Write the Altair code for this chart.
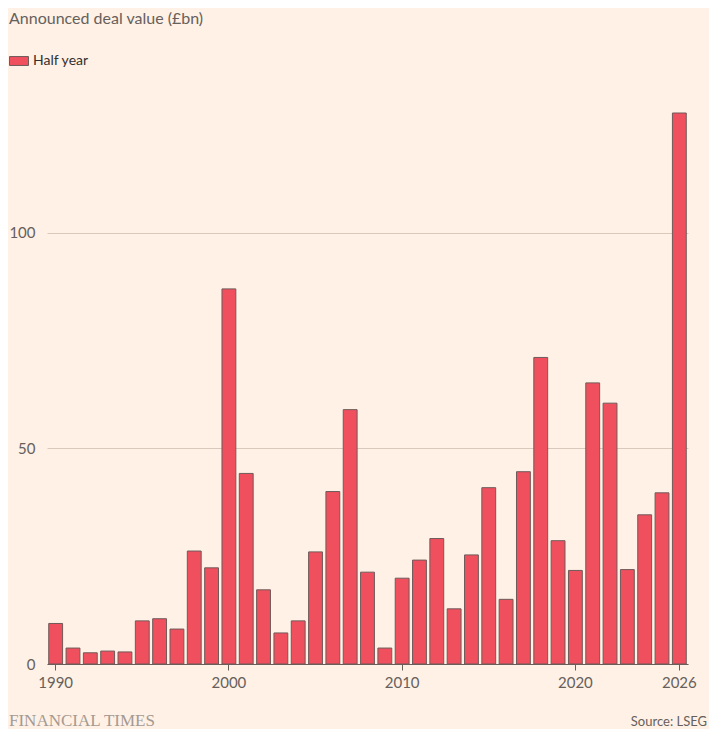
import pandas as pd
import altair as alt

years = list(range(1990, 2027))
values = [9.4, 3.7, 2.6, 3.0, 2.8, 10.0, 10.5, 8.1, 26.2, 22.3,
          87.0, 44.2, 17.2, 7.2, 10.0, 26.0, 40.0, 59.0, 21.3, 3.7,
          19.9, 24.1, 29.1, 12.8, 25.3, 40.9, 15.0, 44.6, 71.1, 28.6,
          21.7, 65.2, 60.5, 21.9, 34.6, 39.7, 127.8]
series = ["Half year"]
x_ticks = [1990, 2000, 2010, 2020, 2026]
y_ticks = [0, 50, 100]

font = "Lato"
grey = "#66605C"

df = pd.DataFrame({"year": years, "value": values, "series": series[0]})

bars = alt.Chart(df).mark_bar(stroke="#6E5B5A", strokeWidth=1).encode(
    x=alt.X("year:O", title=None,
            scale=alt.Scale(paddingInner=0.2, paddingOuter=0.1),
            axis=alt.Axis(values=x_ticks, labelAngle=0, tickSize=6, tickColor=grey,
                          domainColor=grey, labelColor=grey, labelFontSize=15,
                          labelFont=font, labelPadding=5, grid=False)),
    y=alt.Y("value:Q", title=None,
            scale=alt.Scale(domain=[0, 127.8], nice=False),
            axis=alt.Axis(values=y_ticks, ticks=False, domain=False, labelPadding=12,
                          labelColor=grey, labelFontSize=15, labelFont=font,
                          gridColor="#D9C8BC", gridWidth=1)),
    color=alt.Color("series:N", title=None,
                    scale=alt.Scale(domain=series, range=["#F04F5E"]),
                    legend=alt.Legend(orient="none", legendX=-38, legendY=-62, padding=0,
                                      symbolType="M-1,-0.47L1,-0.47L1,0.47L-1,0.47Z",
                                      symbolSize=361, symbolStrokeColor="#6E5B5A",
                                      symbolStrokeWidth=1, symbolOpacity=1,
                                      labelFontSize=14, labelFont=font, labelColor="#33302E",
                                      labelOffset=4)),
)

brand = alt.Chart(pd.DataFrame({"t": ["FINANCIAL TIMES"]})).mark_text(
    align="left", baseline="alphabetic", font="Liberation Serif", fontSize=17,
    color="#A39A93"
).encode(text="t:N", x=alt.value(-38), y=alt.value(613))

source = alt.Chart(pd.DataFrame({"t": ["Source: LSEG"]})).mark_text(
    align="right", baseline="alphabetic", font=font, fontSize=13, color=grey
).encode(text="t:N", x=alt.value(660), y=alt.value(613))

chart = alt.layer(bars, brand, source).properties(
    width=641,
    height=551,
    background="#FFF1E5",
    autosize=alt.AutoSizeParams(type="none"),
    padding={"left": 39, "top": 105, "right": 21, "bottom": 65},
    title=alt.TitleParams("Announced deal value (£bn)", anchor="start", frame="group",
                          dx=-38, font=font, fontSize=16, fontWeight="normal",
                          color=grey, offset=24),
).configure_view(stroke=None)

chart.save("out.html", embed_options={"renderer": "svg", "actions": False})
